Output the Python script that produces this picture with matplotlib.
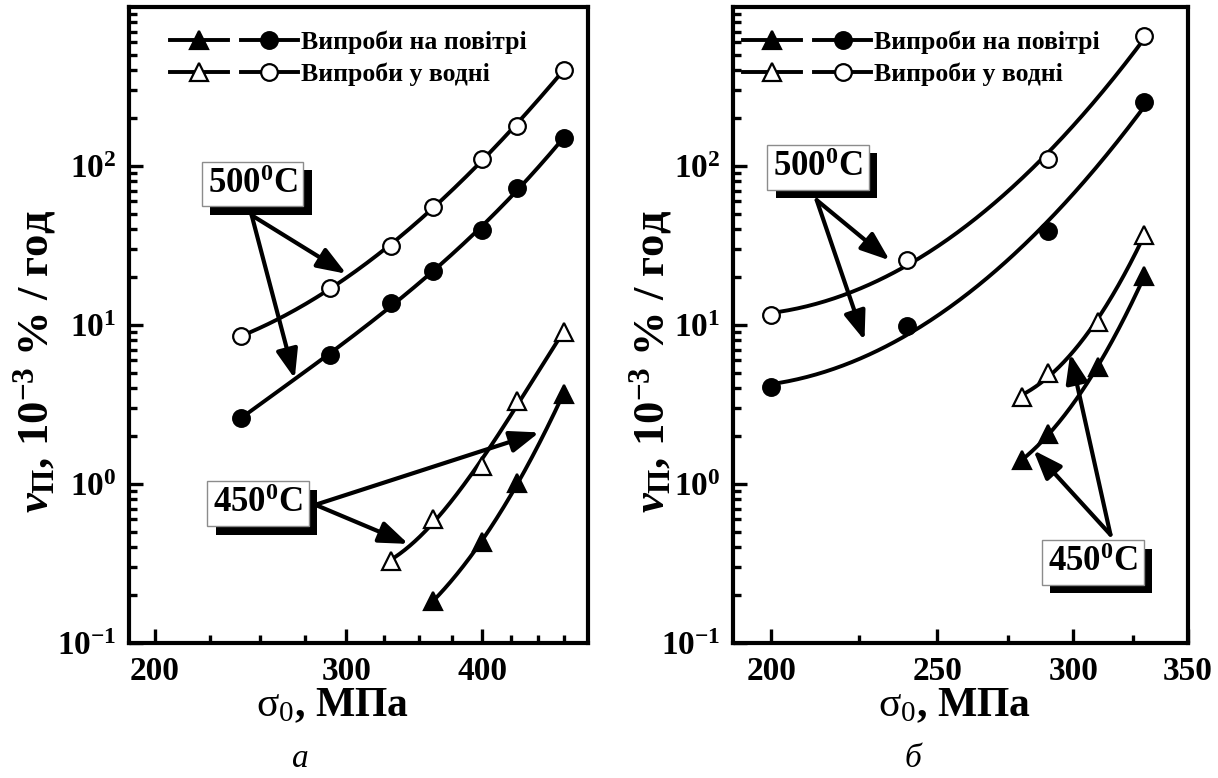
import numpy as np
import matplotlib
matplotlib.use('Agg')
import matplotlib.pyplot as plt
from matplotlib.lines import Line2D
from matplotlib.legend_handler import HandlerTuple
from matplotlib.ticker import FixedLocator, LogFormatterMathtext, NullFormatter, LogLocator, FuncFormatter
import matplotlib.patheffects as pe

plt.rcParams['font.family'] = ['Liberation Serif', 'DejaVu Serif']
plt.rcParams['font.weight'] = 'bold'
plt.rcParams['axes.labelweight'] = 'bold'
plt.rcParams['mathtext.fontset'] = 'custom'
plt.rcParams['mathtext.rm'] = 'Liberation Serif:normal'
plt.rcParams['mathtext.it'] = 'Liberation Serif:italic:bold'
plt.rcParams['mathtext.bf'] = 'Liberation Serif:bold'

# --- panel a ---
a_x_air500 = [240, 290, 330, 360, 400, 430, 475]
a_y_air500 = [2.6, 6.5, 13.7, 21.8, 39.8, 72.7, 150]
a_x_wat500 = [240, 290, 330, 360, 400, 430, 475]
a_y_wat500 = [8.5, 17.1, 31.5, 55.2, 111, 179, 404]
a_x_air450 = [360, 400, 430, 475]
a_y_air450 = [0.184, 0.43, 1.02, 3.7]
a_x_wat450 = [330, 360, 400, 430, 475]
a_y_wat450 = [0.33, 0.60, 1.30, 3.35, 9.0]

# --- panel b ---
b_x_air500 = [200, 240, 290, 330]
b_y_air500 = [4.08, 9.8, 38.8, 252]
b_x_wat500 = [200, 240, 290, 330]
b_y_wat500 = [11.6, 25.7, 110, 659]
b_x_air450 = [280, 290, 310, 330]
b_y_air450 = [1.41, 2.05, 5.46, 20.2]
b_x_wat450 = [280, 290, 310, 330]
b_y_wat450 = [3.53, 4.96, 10.5, 37]

LEG_AIR = 'Випроби на повітрі'
LEG_WAT = 'Випроби у водні'


def curve(ax, xs, ys, marker, filled):
    xs = np.asarray(xs, float); ys = np.asarray(ys, float)
    deg = 3 if len(xs) > 4 else 2
    p = np.polyfit(np.log10(xs), np.log10(ys), deg)
    xx = np.linspace(xs[0], xs[-1], 200)
    ax.plot(xx, 10 ** np.polyval(p, np.log10(xx)), color='k', lw=2.8, zorder=2)
    ax.plot(xs, ys, ls='none', marker=marker, ms=13 if marker == '^' else 12,
            mfc='k' if filled else 'white', mec='k', mew=1.6, zorder=3)


def label_box(ax, text, xy, starts, ends):
    t = ax.text(xy[0], xy[1], text, ha='center', va='center', fontsize=25, zorder=6,
                bbox=dict(boxstyle='square,pad=0.17', fc='white', ec='0.55', lw=1))
    t.get_bbox_patch().set_path_effects([
        pe.SimplePatchShadow(offset=(6, -6), shadow_rgbFace='k', alpha=1), pe.Normal()])
    for s, e in zip(starts, ends):
        ax.annotate('', xy=e, xytext=s, zorder=5,
                    arrowprops=dict(arrowstyle='-|>,head_length=0.8,head_width=0.3',
                                    mutation_scale=22, color='k', lw=3,
                                    shrinkA=0, shrinkB=0))


def style(ax, xmin, xmax, majors, minors, xlab_x, ylab_x):
    ax.set_xscale('log'); ax.set_yscale('log')
    ax.set_xlim(xmin, xmax); ax.set_ylim(0.1, 1000)
    ax.xaxis.set_major_locator(FixedLocator(majors))
    ax.xaxis.set_minor_locator(FixedLocator(minors))
    ax.xaxis.set_major_formatter(FuncFormatter(lambda v, p: f'{v:.0f}'))
    ax.xaxis.set_minor_formatter(NullFormatter())
    ax.yaxis.set_major_locator(FixedLocator([0.1, 1, 10, 100]))
    ax.yaxis.set_major_formatter(LogFormatterMathtext())
    ax.yaxis.set_minor_locator(LogLocator(base=10, subs=np.arange(2, 10)))
    ax.yaxis.set_minor_formatter(NullFormatter())
    ax.tick_params(which='both', direction='in', top=False, right=False, width=2.4,
                   labelsize=24)
    ax.tick_params(which='major', length=10, pad=9)
    ax.tick_params(which='minor', length=6)
    for s in ax.spines.values():
        s.set_linewidth(3)
    ax.set_xlabel(r'$\mathrm{σ}_{\mathrm{0}}$, МПа', fontsize=30, va='top')
    ax.xaxis.set_label_coords(xlab_x, -0.068)
    ax.set_ylabel(r'$\nu_{\mathdefault{П}}$, 10$^{\mathdefault{-3}}$ % / год', fontsize=32)
    ax.yaxis.set_label_coords(ylab_x, 0.443)


def legend(ax, anchor):
    kw = dict(color='k', lw=2.8, mec='k', mew=1.6)
    h_air = (Line2D([], [], marker='^', ms=13, mfc='k', **kw),
             Line2D([], [], marker='o', ms=12, mfc='k', **kw))
    h_wat = (Line2D([], [], marker='^', ms=13, mfc='white', **kw),
             Line2D([], [], marker='o', ms=12, mfc='white', **kw))
    ax.legend([h_air, h_wat], [LEG_AIR, LEG_WAT],
              handler_map={tuple: HandlerTuple(ndivide=None, pad=0.5)},
              loc='upper left', bbox_to_anchor=anchor, frameon=False, fontsize=18.5,
              handlelength=5.0, handletextpad=0.1, labelspacing=0.32,
              borderpad=0, borderaxespad=0)


fig = plt.figure(figsize=(12.18, 7.78), dpi=100)
ax1 = fig.add_axes([129 / 1218, 135 / 778, 459 / 1218, 636 / 778])
ax2 = fig.add_axes([733 / 1218, 135 / 778, 455 / 1218, 636 / 778])

curve(ax1, a_x_air500, a_y_air500, 'o', True)
curve(ax1, a_x_wat500, a_y_wat500, 'o', False)
curve(ax1, a_x_air450, a_y_air450, '^', True)
curve(ax1, a_x_wat450, a_y_wat450, '^', False)
style(ax1, 189.5, 500, [200, 300, 400], [225, 250, 275, 325, 350, 375, 425, 450, 475],
      0.444, -0.155)
legend(ax1, (0.089, 0.963))
label_box(ax1, r'500$^{\mathdefault{0}}$C', (246, 77),
          [(245.6, 49), (245.6, 49)], [(300, 21), (269, 4.6)])
label_box(ax1, r'450$^{\mathdefault{0}}$C', (249, 0.75),
          [(281, 0.74), (281, 0.74)], [(451, 2.11), (342, 0.42)])

curve(ax2, b_x_air500, b_y_air500, 'o', True)
curve(ax2, b_x_wat500, b_y_wat500, 'o', False)
curve(ax2, b_x_air450, b_y_air450, '^', True)
curve(ax2, b_x_wat450, b_y_wat450, '^', False)
style(ax2, 190, 350, [200, 250, 300, 350], [225, 275, 325], 0.486, -0.13)
legend(ax2, (0.022, 0.963))
label_box(ax2, r'500$^{\mathdefault{0}}$C', (213, 98),
          [(212.6, 61), (212.6, 61)], [(234.5, 25.5), (226.7, 8.0)])
label_box(ax2, r'450$^{\mathdefault{0}}$C', (308, 0.32),
          [(315.4, 0.48), (315.4, 0.48)], [(284.4, 1.63), (298.8, 6.6)])

fig.text(300 / 1218, 1 - 767 / 778, 'а', fontsize=24, style='italic', weight='normal',
         ha='center', va='baseline')
fig.text(913 / 1218, 1 - 767 / 778, 'б', fontsize=24, style='italic', weight='normal',
         ha='center', va='baseline')

fig.savefig('out.png', dpi=100)
